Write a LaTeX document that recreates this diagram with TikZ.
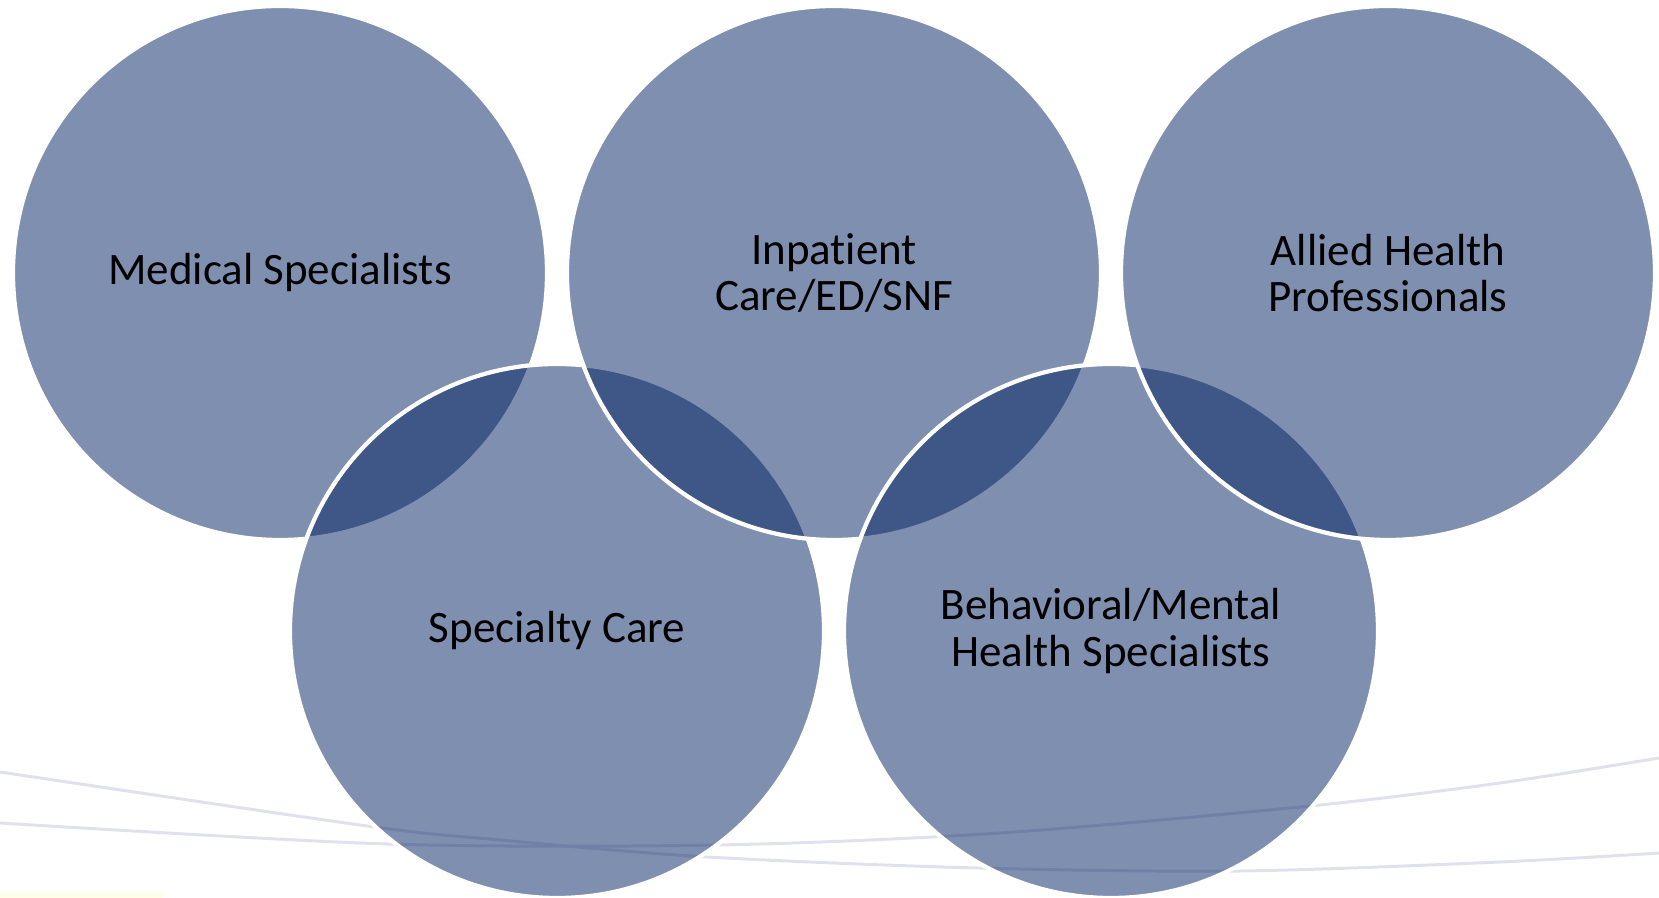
\documentclass[tikz,border=0pt]{standalone}
\usepackage{fontspec}
\setmainfont{Carlito}[Ligatures=NoCommon]
\usepackage{tikz}

\definecolor{ringblue}{HTML}{002060}
\definecolor{swoosh}{HTML}{E1E1EE}

\begin{document}
\begin{tikzpicture}[node distance=5.54cm,
                ring node/.style={draw=white, line width=1.2pt, circle, minimum size=5.34cm,
                  inner sep=0pt, fill=ringblue, fill opacity=0.5, text opacity=1,
                  text=black, align=center, font=\fontsize{12.8}{13.3}\selectfont}]

  \useasboundingbox (0,0) rectangle (16.59,8.98);

  % background swoosh lines, drawn first so the rings tint them
  \draw[swoosh, line width=0.85pt] plot[smooth] coordinates
    {(0,1.26) (3.67,0.72) (5.00,0.58) (7.07,0.41) (9.77,0.30) (12.40,0.27) (15.00,0.36) (16.59,0.45)};
  \draw[swoosh, line width=0.85pt] plot[smooth] coordinates
    {(0,0.75) (3.87,0.54) (7.17,0.53) (10.00,0.65) (13.10,0.92) (15.00,1.15) (16.59,1.40)};
  \fill[yellow!10] (0,0) rectangle (1.63,0.05);

  % rings, left to right so each white rim lies over the one before
  \node[ring node] (med) at (2.80,6.25) {Medical Specialists};
  \node[ring node] (spec) at (5.57,2.67) {Specialty Care};
  \node[ring node] (inpat) [right of=med] {Inpatient\\Care/ED/SNF};
  \node[ring node] (behav) at (11.11,2.67) {Behavioral/Mental\\Health Specialists};
  \node[ring node] (allied) [right of=inpat] {Allied Health\\Professionals};
\end{tikzpicture}
\end{document}
